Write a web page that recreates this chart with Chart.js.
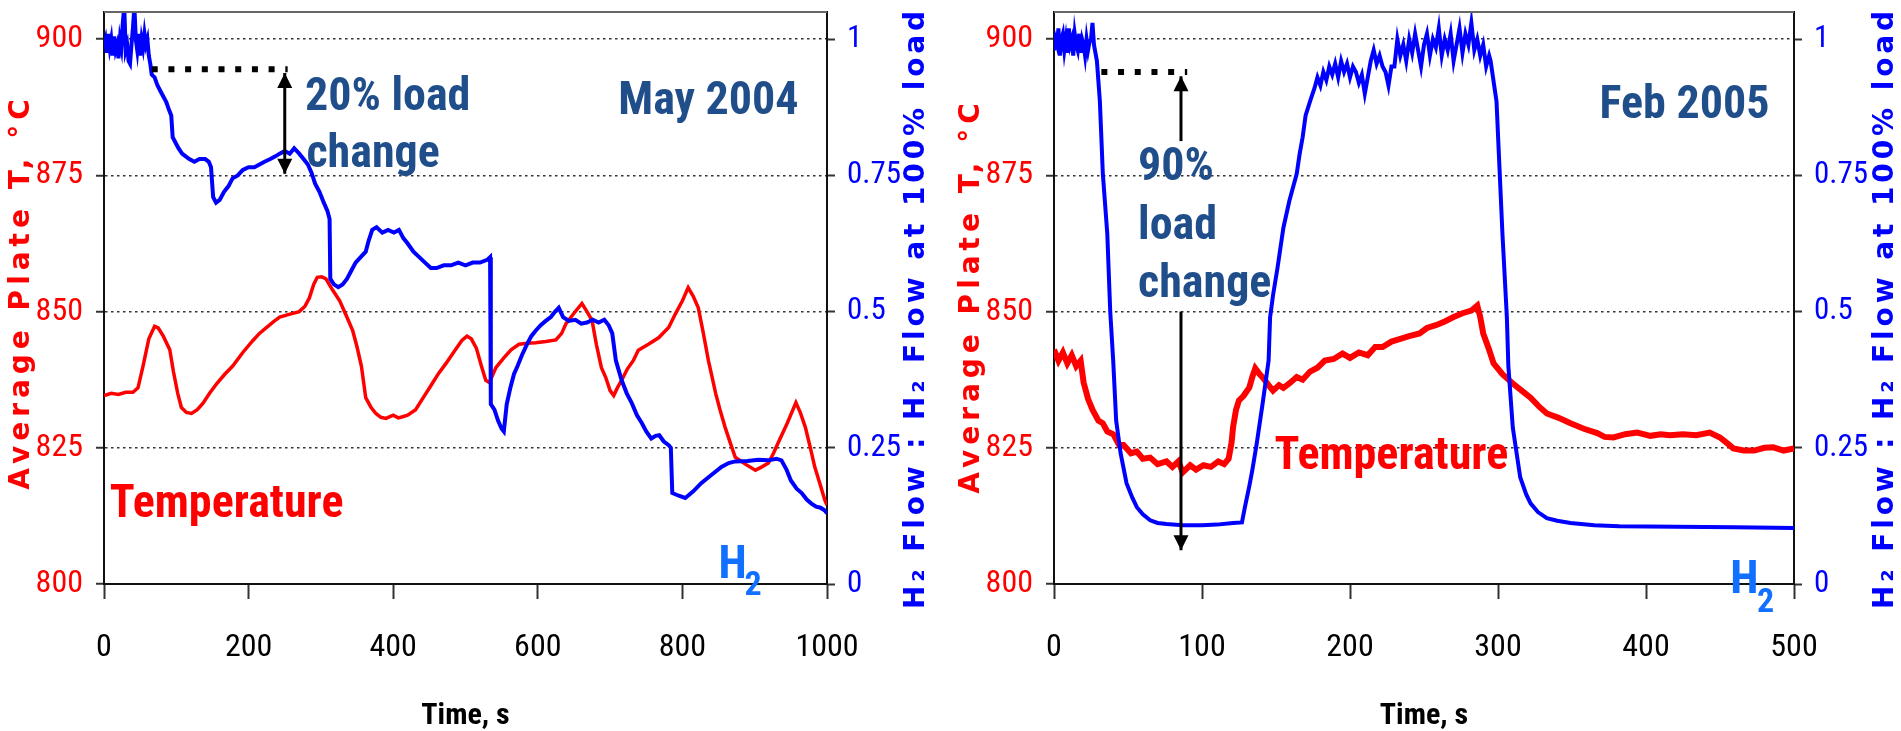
<!DOCTYPE html>
<html>
<head>
<meta charset="utf-8">
<script src="https://cdn.jsdelivr.net/npm/chart.js@4.4.1/dist/chart.umd.min.js"></script>
<style>
  html, body { margin: 0; padding: 0; background: #fff; }
  #wrap { position: relative; width: 1901px; height: 731px; }
  #may { position: absolute; left: 0; top: 0; }
  #feb { position: absolute; left: 950px; top: 0; }
</style>
</head>
<body>
<div id="wrap">
  <canvas id="may" width="950" height="731"></canvas>
  <canvas id="feb" width="951" height="731"></canvas>
</div>
<script>
// May 2004 run, 20% load change: [time s, H2 flow fraction]
const mayFlow = [[0,0.99],[2,1.0],[4,0.975],[6,1.01],[8,0.985],[10,1.0],[12,0.97],[14,1.005],[16,0.98],[18,0.99],[20,0.965],[22,1.0],[24,0.985],[26,1.03],[28,1.06],[30,0.98],[32,0.99],[34,0.96],[36,0.955],[38,0.99],[40,1.02],[42,1.06],[44,1.0],[46,0.98],[48,1.01],[50,0.97],[52,1.0],[54,0.985],[56,1.01],[58,0.99],[60,1.0],[62,0.97],[64,0.955],[66,0.935],[70,0.93],[74,0.915],[78,0.905],[82,0.895],[86,0.885],[90,0.87],[93,0.86],[95,0.82],[99,0.81],[103,0.8],[108,0.79],[113,0.785],[118,0.78],[125,0.775],[132,0.78],[140,0.78],[145,0.775],[148,0.765],[151,0.71],[155,0.7],[160,0.705],[166,0.72],[172,0.73],[178,0.745],[185,0.75],[192,0.76],[200,0.765],[208,0.765],[215,0.77],[222,0.775],[230,0.78],[237,0.785],[243,0.79],[250,0.795],[257,0.79],[263,0.8],[270,0.79],[276,0.78],[282,0.77],[287,0.755],[292,0.735],[298,0.72],[304,0.7],[309,0.685],[312,0.67],[313,0.56],[318,0.55],[324,0.545],[330,0.55],[336,0.56],[342,0.575],[348,0.59],[355,0.6],[362,0.61],[366,0.63],[371,0.65],[377,0.655],[385,0.645],[393,0.65],[401,0.645],[408,0.65],[414,0.635],[420,0.625],[428,0.61],[436,0.6],[444,0.59],[452,0.58],[460,0.58],[470,0.585],[480,0.585],[490,0.59],[500,0.585],[510,0.59],[520,0.59],[530,0.595],[534,0.6],[535,0.33],[540,0.32],[545,0.3],[550,0.285],[553,0.28],[557,0.33],[562,0.36],[567,0.385],[572,0.4],[578,0.42],[585,0.44],[591,0.455],[597,0.465],[604,0.475],[611,0.483],[618,0.49],[624,0.5],[629,0.507],[635,0.49],[643,0.483],[652,0.485],[660,0.478],[668,0.48],[676,0.485],[684,0.48],[692,0.485],[698,0.475],[703,0.46],[708,0.41],[716,0.374],[723,0.35],[730,0.332],[737,0.31],[744,0.295],[750,0.28],[757,0.267],[763,0.272],[768,0.273],[774,0.262],[781,0.255],[784,0.25],[786,0.167],[795,0.162],[804,0.158],[815,0.17],[826,0.185],[840,0.2],[854,0.215],[864,0.222],[873,0.225],[890,0.226],[905,0.228],[919,0.227],[930,0.23],[937,0.227],[944,0.21],[950,0.19],[958,0.175],[965,0.167],[972,0.155],[978,0.148],[985,0.142],[991,0.14],[997,0.135],[1000,0.13]];

// May 2004 run: [time s, average plate T degC]
const mayTemp = [[0,834.6],[10,835],[20,834.8],[30,835.2],[40,835.2],[47,836],[54,840],[62,845],[70,847.3],[75,847],[82,845.5],[91,843],[96,839],[102,835],[107,832.4],[114,831.5],[121,831.3],[129,832],[137,833.2],[146,835],[156,836.8],[167,838.5],[178,840],[192,842.5],[206,844.7],[215,846],[225,847.1],[235,848.2],[243,849],[256,849.5],[270,850],[278,851],[284,852.5],[290,855],[295,856.3],[301,856.4],[307,856],[316,854],[326,852],[335,849.3],[344,846.5],[350,843.5],[356,840],[362,834.2],[369,832.5],[376,831.3],[383,830.6],[390,830.4],[400,831],[407,830.5],[413,830.7],[420,831],[431,832],[442,834.3],[454,836.8],[463,838.7],[473,840.5],[486,843],[495,844.7],[502,845.5],[508,845],[515,843.3],[522,840],[528,837.4],[533,837],[542,839.7],[553,841.5],[563,843],[574,844],[586,844.2],[597,844.3],[611,844.5],[625,844.8],[633,846],[639,847.8],[650,849.7],[661,851.5],[668,850],[675,848.4],[681,844],[688,839.7],[694,837.9],[700,835.5],[705,834.6],[710,836],[716,837.4],[724,839.5],[732,841],[739,842.9],[753,844],[767,845.2],[781,847.1],[790,849.5],[800,852],[808,854.4],[815,852.8],[822,850.7],[829,846],[836,841],[841,838],[846,835],[852,832],[859,828.8],[866,826],[873,823.3],[887,822],[901,820.9],[910,821.5],[919,822.2],[926,824],[932,825.8],[945,829.5],[957,833.3],[963,831.5],[970,828.8],[977,825],[983,821.5],[990,818.5],[997,815.4],[1000,814.5]];

// Feb 2005 run, 90% load change: [time s, H2 flow fraction]
const febFlow = [[0,0.98],[1,1.0],[2,0.99],[3,1.02],[4,0.97],[5,1.0],[6,1.01],[7,0.98],[8,1.0],[9,0.975],[10,1.02],[11,0.99],[12,1.0],[13,0.97],[14,1.01],[15,0.99],[16,0.98],[17,1.01],[18,0.975],[19,1.0],[20,0.99],[21,0.97],[22,1.0],[23,0.98],[24,0.995],[25,1.0],[26,1.03],[27,0.99],[28,0.975],[29,0.96],[31,0.886],[33,0.753],[36,0.643],[38,0.5],[40,0.41],[42,0.3],[45,0.24],[49,0.185],[53,0.158],[56,0.141],[60,0.128],[65,0.117],[70,0.112],[76,0.11],[87,0.108],[100,0.108],[110,0.109],[121,0.112],[127,0.113],[129,0.141],[132,0.18],[134,0.209],[137,0.258],[141,0.332],[145,0.41],[146,0.489],[148,0.53],[151,0.58],[155,0.654],[159,0.703],[164,0.753],[166,0.79],[168,0.82],[170,0.86],[173,0.886],[176,0.91],[178,0.93],[180,0.915],[182,0.94],[184,0.925],[186,0.95],[188,0.935],[190,0.955],[192,0.93],[194,0.96],[196,0.94],[198,0.955],[200,0.93],[202,0.95],[204,0.94],[206,0.92],[208,0.935],[210,0.9],[212,0.93],[214,0.96],[216,0.98],[218,0.955],[220,0.97],[222,0.95],[224,0.94],[226,0.915],[228,0.95],[230,0.95],[232,1.0],[234,0.97],[236,0.99],[238,0.96],[240,1.0],[242,0.975],[244,1.01],[246,0.98],[248,0.95],[250,0.99],[252,1.01],[254,0.97],[256,1.0],[258,0.985],[260,1.02],[262,0.97],[264,1.0],[266,0.98],[268,1.01],[270,0.96],[272,0.99],[274,1.02],[276,0.975],[278,1.01],[280,0.99],[282,1.03],[284,0.98],[286,1.0],[288,0.97],[290,0.99],[292,0.95],[294,0.97],[295,0.96],[299,0.886],[301,0.764],[303,0.643],[306,0.489],[307,0.4],[310,0.287],[315,0.196],[319,0.165],[322,0.148],[327,0.132],[333,0.121],[340,0.116],[349,0.112],[365,0.108],[382,0.106],[420,0.105],[460,0.104],[500,0.103]];

// Feb 2005 run: [time s, average plate T degC]
const febTemp = [[0,843],[3,841],[6,842.5],[9,840.5],[12,842],[15,840],[18,841],[20,837],[23,834],[26,832],[30,830],[33,829.5],[36,828],[40,827.5],[44,825.5],[47,825.5],[52,824],[56,824.3],[60,823],[65,823.2],[70,822],[76,822.5],[80,821.5],[84,822.5],[87,820.5],[92,821.8],[96,821],[101,821.8],[106,821.5],[111,822.5],[115,822],[118,823],[120,826],[121,828.8],[123,832],[125,833.7],[128,834.5],[132,836.1],[134,838],[136,839.6],[139,838.5],[141,837.9],[145,836.5],[148,835.5],[152,836.5],[155,836],[159,836.8],[164,838],[168,837.5],[173,839],[178,839.7],[183,841],[189,841.3],[195,842.3],[200,841.5],[206,842.5],[212,842],[217,843.5],[222,843.5],[228,844.5],[234,845],[240,845.5],[247,846],[252,847],[258,847.5],[264,848.2],[270,849],[276,849.7],[282,850.2],[286,851.1],[288,849],[290,846],[294,843],[297,840.5],[303,838.5],[310,836.8],[316,835.5],[322,834.2],[328,832.5],[333,831.3],[341,830.5],[349,829.5],[358,828.5],[367,827.7],[372,827],[378,826.9],[386,827.5],[394,827.8],[403,827.2],[410,827.5],[416,827.3],[425,827.5],[434,827.3],[443,827.8],[450,826.9],[455,825.8],[459,824.9],[466,824.5],[473,824.5],[480,825],[486,825.1],[493,824.5],[500,824.9]];

const tempTicks = [800, 825, 850, 875, 900];
const flowTicks = [0, 0.25, 0.5, 0.75, 1];
const mayTimeTicks = [0, 200, 400, 600, 800, 1000];
const febTimeTicks = [0, 100, 200, 300, 400, 500];

const axisFont = "'Roboto Condensed', 'Liberation Sans Narrow', 'Liberation Sans', Arial, sans-serif";
const wide = "'DejaVu Sans', Verdana, sans-serif";
const noteFont = "bold 46px " + axisFont;
const subFont = "bold 34px " + axisFont;
const noteBlue = '#1F4E8A';

function pts(pairs) {
    return pairs.map(p => ({ x: p[0], y: p[1] }));
}

// draws frame top, rotated side titles, dotted marker, arrows and text notes
const notes = {
    id: 'notes',
    afterDraw(chart, args, opts) {
        const { ctx, chartArea, scales } = chart;
        const sx = scales.x, sy = scales.y;
        ctx.save();
        ctx.strokeStyle = '#666';
        ctx.lineWidth = 2;
        ctx.beginPath();
        ctx.moveTo(chartArea.left, chartArea.top);
        ctx.lineTo(chartArea.right, chartArea.top);
        ctx.stroke();

        ctx.font = 'bold 28px ' + wide;
        ctx.textAlign = 'center';
        ctx.textBaseline = 'middle';
        opts.sideTitles.forEach(t => {
            ctx.save();
            ctx.letterSpacing = t.spacing + 'px';
            ctx.translate(t.x, t.y);
            ctx.rotate(-Math.PI / 2);
            ctx.fillStyle = t.color;
            ctx.fillText(t.text, 0, 0);
            ctx.restore();
        });

        opts.dots.forEach(d => {
            ctx.setLineDash([6, 10.7]);
            ctx.lineWidth = 6;
            ctx.strokeStyle = '#000';
            ctx.beginPath();
            ctx.moveTo(sx.getPixelForValue(d.from), sy.getPixelForValue(d.at));
            ctx.lineTo(sx.getPixelForValue(d.to), sy.getPixelForValue(d.at));
            ctx.stroke();
        });
        ctx.setLineDash([]);

        opts.arrows.forEach(a => {
            const px = sx.getPixelForValue(a.x);
            const y1 = sy.getPixelForValue(a.from), y2 = sy.getPixelForValue(a.to);
            ctx.strokeStyle = '#000';
            ctx.fillStyle = '#000';
            ctx.lineWidth = 3;
            ctx.beginPath();
            ctx.moveTo(px, y1);
            ctx.lineTo(px, y2);
            ctx.stroke();
            const head = (tipY, dir) => {
                ctx.beginPath();
                ctx.moveTo(px, tipY);
                ctx.lineTo(px - 7.5, tipY + dir * 15);
                ctx.lineTo(px + 7.5, tipY + dir * 15);
                ctx.closePath();
                ctx.fill();
            };
            const dir = y2 > y1 ? -1 : 1;
            head(y2, dir);
            if (a.both) head(y1, -dir);
        });

        opts.texts.forEach(t => {
            ctx.font = t.font || noteFont;
            ctx.fillStyle = t.color;
            ctx.textAlign = t.align || 'left';
            ctx.textBaseline = 'middle';
            ctx.fillText(t.text, sx.getPixelForValue(t.x), sy.getPixelForValue(t.y));
        });
        ctx.restore();
    }
};

function makeChart(id, flow, temp, timeTicks, xMax, rightWidth, sideTitles, extra) {
    new Chart(document.getElementById(id), {
        type: 'line',
        data: {
            datasets: [{
                data: pts(flow),
                yAxisID: 'y2',
                borderColor: '#0000FF',
                borderWidth: 4,
                pointRadius: 0,
                tension: 0
            }, {
                data: pts(temp),
                yAxisID: 'y',
                borderColor: '#FF0000',
                borderWidth: extra.tempWidth,
                pointRadius: 0,
                tension: 0
            }]
        },
        options: {
            responsive: false,
            animation: false,
            events: [],
            layout: { padding: { top: 12, left: 0, right: 0, bottom: 0 } },
            plugins: {
                legend: { display: false },
                tooltip: { enabled: false },
                notes: {
                    sideTitles: sideTitles,
                    dots: extra.dots,
                    arrows: extra.arrows,
                    texts: extra.texts
                }
            },
            scales: {
                x: {
                    type: 'linear',
                    min: 0,
                    max: xMax,
                    afterBuildTicks: s => { s.ticks = timeTicks.map(v => ({ value: v })); },
                    afterFit: s => { s.height = 147; s.paddingLeft = 0; s.paddingRight = 0; },
                    grid: { drawOnChartArea: false, tickLength: 15, tickWidth: 2, tickColor: '#333' },
                    border: { color: '#111', width: 2 },
                    ticks: { color: '#000', font: { family: axisFont, size: 32 }, padding: 30, maxRotation: 0, callback: v => String(v) },
                    title: { display: true, text: 'Time, s', color: '#000', font: { family: axisFont, size: 30, weight: 'bold', lineHeight: 1 }, padding: 0 }
                },
                y: {
                    type: 'linear',
                    position: 'left',
                    min: 800,
                    max: 905,
                    afterBuildTicks: s => { s.ticks = tempTicks.map(v => ({ value: v })); },
                    afterFit: s => { s.width = 104; s.paddingTop = 0; s.paddingBottom = 0; },
                    grid: {
                        color: c => (c.tick && c.tick.value === 800) ? 'rgba(0,0,0,0)' : '#333',
                        lineWidth: 1.5,
                        tickLength: 8,
                        tickWidth: 2,
                        tickColor: '#333'
                    },
                    border: { color: '#111', width: 2, dash: [2.5, 3.5] },
                    ticks: { color: '#FF0000', font: { family: axisFont, size: 32 }, padding: 13, callback: v => String(v) }
                },
                y2: {
                    type: 'linear',
                    position: 'right',
                    min: 0,
                    max: 1.05,
                    afterBuildTicks: s => { s.ticks = flowTicks.map(v => ({ value: v })); },
                    afterFit: s => { s.width = rightWidth; s.paddingTop = 0; s.paddingBottom = 0; },
                    grid: { drawOnChartArea: false, tickLength: 8, tickWidth: 2, tickColor: '#333' },
                    border: { color: '#111', width: 2 },
                    ticks: { color: '#0000FF', font: { family: axisFont, size: 31 }, padding: 12, callback: v => String(v) }
                }
            }
        },
        plugins: [notes]
    });
}

makeChart('may', mayFlow, mayTemp, mayTimeTicks, 1000, 123, [
    { text: 'Average Plate T, °C', color: '#FF0000', x: 22, y: 292, spacing: 5 },
    { text: 'H₂ Flow : H₂ Flow at 100% load', color: '#0000FF', x: 917, y: 308, spacing: 3.9 }
], {
    tempWidth: 3.5,
    dots: [{ from: 66, to: 254, at: 894.5 }],
    arrows: [{ x: 250, from: 893.8, to: 875.3, both: true }],
    texts: [
        { text: '20% load', x: 278, y: 889.2, color: noteBlue },
        { text: 'change', x: 280, y: 878.6, color: noteBlue },
        { text: 'May 2004', x: 836, y: 888.3, color: noteBlue, align: 'center' },
        { text: 'Temperature', x: 8, y: 814.5, color: '#FF0000' },
        { text: 'H', x: 850, y: 803.3, color: '#1170FF' },
        { text: '2', x: 886, y: 799.6, color: '#1170FF', font: subFont }
    ]
});

makeChart('feb', febFlow, febTemp, febTimeTicks, 500, 107, [
    { text: 'Average Plate T, °C', color: '#FF0000', x: 22, y: 296, spacing: 5 },
    { text: 'H₂ Flow : H₂ Flow at 100% load', color: '#0000FF', x: 936, y: 308, spacing: 3.9 }
], {
    tempWidth: 6,
    dots: [{ from: 32, to: 90, at: 894 }],
    arrows: [
        { x: 85.8, from: 881.3, to: 893.2 },
        { x: 85.8, from: 850, to: 806.2 }
    ],
    texts: [
        { text: '90%', x: 56.8, y: 876.2, color: noteBlue },
        { text: 'load', x: 56.8, y: 865.4, color: noteBlue },
        { text: 'change', x: 56.8, y: 854.8, color: noteBlue },
        { text: 'Feb 2005', x: 426, y: 887.7, color: noteBlue, align: 'center' },
        { text: 'Temperature', x: 149, y: 823.3, color: '#FF0000' },
        { text: 'H', x: 457, y: 800.5, color: '#1170FF' },
        { text: '2', x: 475, y: 796.4, color: '#1170FF', font: subFont }
    ]
});
</script>
</body>
</html>
